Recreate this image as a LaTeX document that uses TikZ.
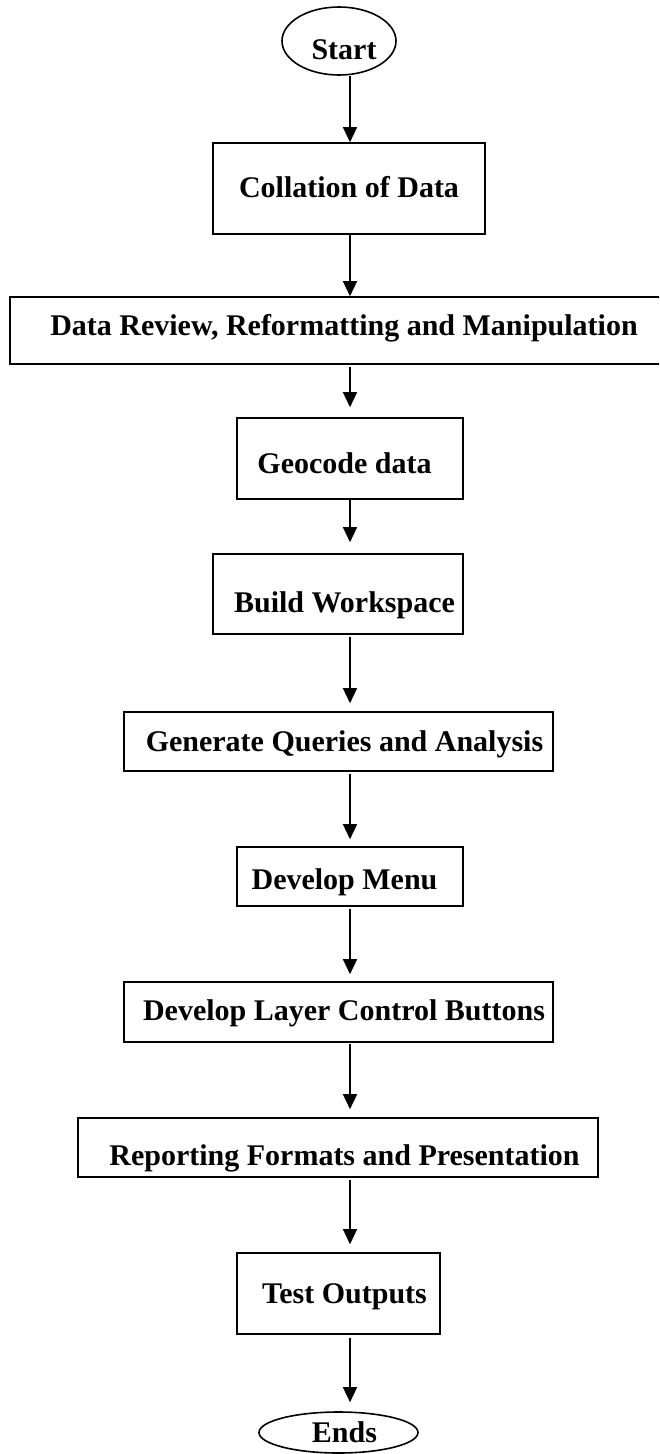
\documentclass[tikz,border=0pt]{standalone}
\usepackage{fontspec}
\setmainfont{Liberation Serif}
\usetikzlibrary{arrows.meta,shapes.geometric}
\newcommand\tx[3]{\hspace*{#1pt}\raisebox{#2pt}{#3}}
\tikzset{
  base/.style={draw=black, line width=1.6pt, inner sep=0pt, text height=20pt, text depth=0pt,
    font=\fontsize{30pt}{36pt}\selectfont\bfseries, anchor=center},
  stepbox/.style={base, rectangle, minimum width=#1},
  term/.style={base, ellipse},
  arr/.style={line width=1.4pt, -{Triangle[width=14pt,length=15pt]}}
}
\begin{document}
\begin{tikzpicture}[x=1pt, y=-1pt]
\useasboundingbox (0,0) rectangle (659,1454);
\clip (0,0) rectangle (659,1454);
\coordinate (ax) at (350,0);
\node[term, minimum width=114pt, minimum height=68pt] (start) at (339,41) {\tx{10}{-8}{Start}};
\node[stepbox=272pt, minimum height=91pt] (b1) at (349,188.5) {\tx{0}{1.5}{Collation of Data}};
\node[stepbox=670pt, minimum height=67pt] (b2) at (345,330.5) {\tx{-2}{5.5}{Data Review, Reformatting and Manipulation}};
\node[stepbox=226pt, minimum height=81pt] (b3) at (350,458.5) {\tx{-11}{-4.5}{Geocode data}};
\node[stepbox=250pt, minimum height=80pt] (b4) at (338,594) {\tx{13}{-8.5}{Build Workspace}};
\node[stepbox=429pt, minimum height=59pt] (b5) at (338.5,741.5) {\tx{12}{0.5}{Generate Queries and Analysis}};
\node[stepbox=226pt, minimum height=59pt] (b6) at (350,876.5) {\tx{-11}{-3}{Develop Menu}};
\node[stepbox=429pt, minimum height=60pt] (b7) at (338.5,1012) {\tx{11}{2}{Develop Layer Control Buttons}};
\node[stepbox=520pt, minimum height=59pt] (b8) at (338,1147.5) {\tx{13}{-7.5}{Reporting Formats and Presentation}};
\node[stepbox=203pt, minimum height=81pt] (b9) at (338.5,1293.5) {\tx{12}{0}{Test Outputs}};
\node[term, minimum width=159pt, minimum height=41pt] (ends) at (338.5,1432.5) {\tx{12}{0.5}{Ends}};
\draw[arr] (start.south -| ax) -- (b1.north -| ax);
\draw[arr] (b1.south -| ax) -- (b2.north -| ax);
\draw[arr, shorten <=2pt, shorten >=10pt] (b2.south -| ax) -- (b3.north -| ax);
\draw[arr, shorten >=11pt] (b3.south -| ax) -- (b4.north -| ax);
\draw[arr, shorten <=2pt, shorten >=8pt] (b4.south -| ax) -- (b5.north -| ax);
\draw[arr, shorten <=2pt, shorten >=7pt] (b5.south -| ax) -- (b6.north -| ax);
\draw[arr, shorten <=2pt, shorten >=7pt] (b6.south -| ax) -- (b7.north -| ax);
\draw[arr, shorten <=1pt, shorten >=8pt] (b7.south -| ax) -- (b8.north -| ax);
\draw[arr, shorten <=2pt, shorten >=8pt] (b8.south -| ax) -- (b9.north -| ax);
\draw[arr, shorten <=3pt, shorten >=9pt] (b9.south -| ax) -- (ends.north -| ax);
\end{tikzpicture}
\end{document}
